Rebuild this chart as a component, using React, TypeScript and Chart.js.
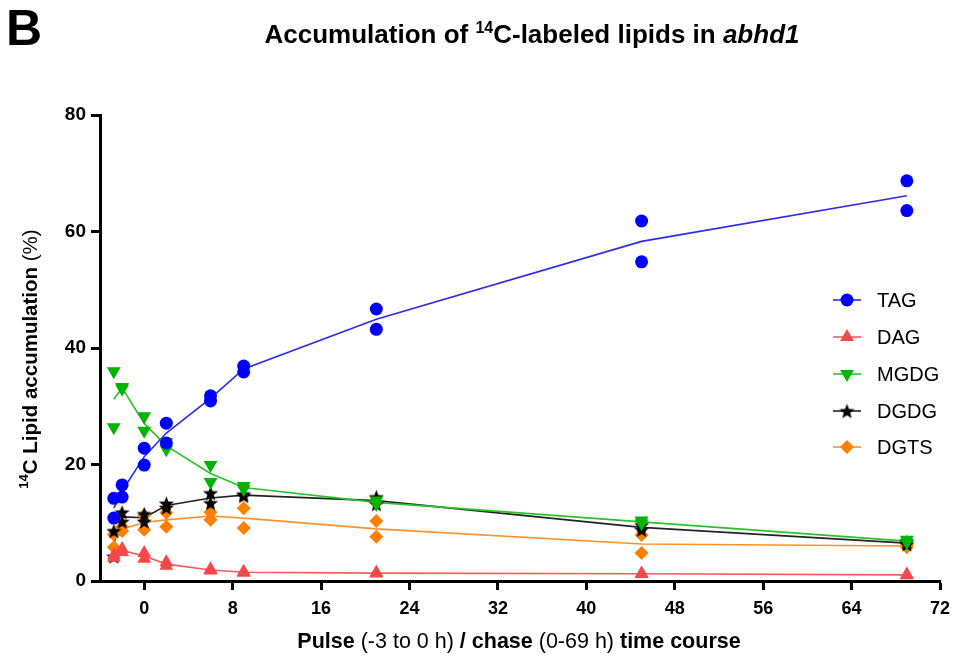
import React, { useEffect, useRef } from 'react';
import { Chart, registerables } from 'chart.js';
import { drawPoint } from 'chart.js/helpers';

Chart.register(...registerables);

const times = [-2.75, -2, 0, 2, 6, 9, 21, 45, 69];
const tagRep1 = [14.2, 16.5, 22.8, 27.1, 31.8, 36.9, 46.7, 61.8, 68.7];
const tagRep2 = [10.8, 14.4, 19.9, 23.7, 30.9, 35.9, 43.2, 54.8, 63.6];
const dagRep1 = [4.4, 5.5, 4.8, 3.2, 2.0, 1.6, 1.4, 1.3, 1.1];
const dagRep2 = [4.0, 5.0, 3.8, 2.6, 1.8, 1.4, 1.3, 1.2, 1.0];
const mgdgRep1 = [36.0, 33.3, 28.3, 23.8, 19.9, 16.3, 13.8, 10.4, 7.1];
const mgdgRep2 = [26.4, 33.0, 25.8, 22.6, 17.0, 15.8, 13.2, 9.9, 6.6];
const dgdgRep1 = [8.6, 11.8, 11.5, 13.3, 15.1, 14.9, 14.4, 9.6, 6.7];
const dgdgRep2 = [4.2, 10.2, 10.2, 12.6, 13.4, 14.6, 13.2, 8.8, 6.3];
const dgtsRep1 = [8.0, 9.3, 11.3, 11.7, 11.8, 12.5, 10.3, 7.9, 6.2];
const dgtsRep2 = [5.8, 8.6, 8.8, 9.3, 10.5, 9.1, 7.6, 4.8, 5.8];

const xTicks = [0, 8, 16, 24, 32, 40, 48, 56, 64, 72];
const yTicks = [0, 20, 40, 60, 80];

const seriesNames = ['TAG', 'DAG', 'MGDG', 'DGDG', 'DGTS'];
const seriesColors = ['#0000ff', '#f8474b', '#00b400', '#000000', '#ff8000'];
const lineColors = ['#2b2bf0', '#f85a5e', '#2cc02c', '#222222', '#ff922e'];

const FONT = '"Liberation Sans", Arial, Helvetica, sans-serif';

function makeStar(size: number, color: string) {
  const c = document.createElement('canvas');
  c.width = size;
  c.height = size;
  const g = c.getContext('2d')!;
  const cx = size / 2;
  const cy = size / 2 + 0.8;
  const ro = size / 2 - 0.5;
  const ri = ro * 0.42;
  g.beginPath();
  for (let i = 0; i < 10; i++) {
    const r = i % 2 === 0 ? ro : ri;
    const a = -Math.PI / 2 + (i * Math.PI) / 5;
    const px = cx + r * Math.cos(a);
    const py = cy + r * Math.sin(a);
    if (i === 0) g.moveTo(px, py);
    else g.lineTo(px, py);
  }
  g.closePath();
  g.fillStyle = color;
  g.fill();
  return c;
}

type Run = { text: string; font: string; dy?: number };

function drawRuns(ctx: CanvasRenderingContext2D, runs: Run[], cx: number, baseline: number) {
  let total = 0;
  const widths: number[] = [];
  for (const r of runs) {
    ctx.font = r.font;
    const w = ctx.measureText(r.text).width;
    widths.push(w);
    total += w;
  }
  let x = cx - total / 2;
  ctx.textAlign = 'left';
  ctx.textBaseline = 'alphabetic';
  runs.forEach((r, i) => {
    ctx.font = r.font;
    ctx.fillText(r.text, x, baseline + (r.dy || 0));
    x += widths[i];
  });
}

export default function App() {
  const ref = useRef<HTMLCanvasElement>(null);

  useEffect(() => {
    document.body.style.margin = '0';
    const canvas = ref.current!;
    const star = makeStar(17, '#000000');

    const reps = [
      [tagRep1, tagRep2],
      [dagRep1, dagRep2],
      [mgdgRep1, mgdgRep2],
      [dgdgRep1, dgdgRep2],
      [dgtsRep1, dgtsRep2],
    ];
    const styles: any[] = [
      { pointStyle: 'circle', radius: 6.5, rotation: 0 },
      { pointStyle: 'triangle', radius: 8, rotation: 0 },
      { pointStyle: 'triangle', radius: 8, rotation: 180 },
      { pointStyle: star, radius: 8, rotation: 0 },
      { pointStyle: 'rectRot', radius: 7, rotation: 0 },
    ];

    const datasets: any[] = [];
    reps.forEach((pair, si) => {
      const means = times.map((t, i) => ({ x: t, y: (pair[0][i] + pair[1][i]) / 2 }));
      datasets.push({
        label: seriesNames[si] + ' fit',
        data: means,
        borderColor: lineColors[si],
        borderWidth: 1.6,
        pointRadius: 0,
        showLine: true,
        fill: false,
        tension: 0,
        order: 10,
      });
    });
    reps.forEach((pair, si) => {
      const pts: any[] = [];
      times.forEach((t, i) => {
        pts.push({ x: t, y: pair[0][i] });
        pts.push({ x: t, y: pair[1][i] });
      });
      datasets.push({
        label: seriesNames[si],
        data: pts,
        showLine: false,
        backgroundColor: seriesColors[si],
        borderColor: seriesColors[si],
        borderWidth: 0,
        pointStyle: styles[si].pointStyle,
        pointRadius: styles[si].radius,
        pointRotation: styles[si].rotation,
        order: 1,
      });
    });

    const decor = {
      id: 'decor',
      afterDraw(chart: any) {
        const ctx: CanvasRenderingContext2D = chart.ctx;
        ctx.save();
        ctx.fillStyle = '#000';
        // Panel letter
        ctx.font = `bold 50px ${FONT}`;
        ctx.textAlign = 'left';
        ctx.textBaseline = 'alphabetic';
        ctx.fillText('B', 6, 45);
        // Title
        drawRuns(
          ctx,
          [
            { text: 'Accumulation of ', font: `bold 26px ${FONT}` },
            { text: '14', font: `bold 16px ${FONT}`, dy: -10 },
            { text: 'C-labeled lipids in ', font: `bold 26px ${FONT}` },
            { text: 'abhd1', font: `italic bold 26px ${FONT}` },
          ],
          532,
          43
        );
        // X title
        drawRuns(
          ctx,
          [
            { text: 'Pulse ', font: `bold 21.5px ${FONT}` },
            { text: '(-3 to 0 h) ', font: `21.5px ${FONT}` },
            { text: '/ chase ', font: `bold 21.5px ${FONT}` },
            { text: '(0-69 h) ', font: `21.5px ${FONT}` },
            { text: 'time course', font: `bold 21.5px ${FONT}` },
          ],
          519,
          648
        );
        // Y title
        ctx.save();
        ctx.translate(37, 359);
        ctx.rotate(-Math.PI / 2);
        drawRuns(
          ctx,
          [
            { text: '14', font: `bold 13px ${FONT}`, dy: -9 },
            { text: 'C Lipid accumulation ', font: `bold 20.5px ${FONT}` },
            { text: '(%)', font: `20.5px ${FONT}` },
          ],
          0,
          0
        );
        ctx.restore();
        // Legend
        const ys = [300, 337, 374, 411, 447];
        seriesNames.forEach((name, i) => {
          const y = ys[i];
          ctx.strokeStyle = lineColors[i];
          ctx.lineWidth = 1.6;
          ctx.beginPath();
          ctx.moveTo(833, y);
          ctx.lineTo(861, y);
          ctx.stroke();
          ctx.fillStyle = seriesColors[i];
          ctx.strokeStyle = seriesColors[i];
          drawPoint(
            ctx,
            {
              pointStyle: styles[i].pointStyle,
              radius: styles[i].radius,
              rotation: styles[i].rotation,
              borderWidth: 0,
            } as any,
            847,
            y
          );
          ctx.fillStyle = '#000';
          ctx.font = `20px ${FONT}`;
          ctx.textAlign = 'left';
          ctx.textBaseline = 'middle';
          ctx.fillText(name, 877, y + 1);
        });
        ctx.restore();
      },
    };

    const chart = new Chart(canvas, {
      type: 'line',
      data: { datasets },
      options: {
        animation: false,
        responsive: false,
        maintainAspectRatio: false,
        layout: { padding: { left: 0, right: 40, top: 115, bottom: 0 } },
        plugins: {
          legend: { display: false },
          title: { display: false },
          tooltip: { enabled: false },
        },
        scales: {
          x: {
            type: 'linear',
            min: -4,
            max: 72,
            afterBuildTicks: (s: any) => {
              s.ticks = xTicks.map((v) => ({ value: v }));
            },
            afterFit: (s: any) => {
              s.height = 82;
            },
            ticks: {
              color: '#000',
              font: { family: FONT, size: 18, weight: 'bold' },
              padding: 8,
              maxRotation: 0,
            },
            grid: {
              display: true,
              drawOnChartArea: false,
              drawTicks: true,
              tickLength: 9,
              tickWidth: 3,
              tickColor: '#000',
              color: '#000',
            },
            border: { display: true, width: 3, color: '#000' },
          },
          y: {
            type: 'linear',
            min: 0,
            max: 80,
            afterBuildTicks: (s: any) => {
              s.ticks = yTicks.map((v) => ({ value: v }));
            },
            afterFit: (s: any) => {
              s.width = 100;
            },
            ticks: {
              color: '#000',
              font: { family: FONT, size: 19, weight: 'bold' },
              padding: 5,
            },
            grid: {
              display: true,
              drawOnChartArea: false,
              drawTicks: true,
              tickLength: 9,
              tickWidth: 3,
              tickColor: '#000',
              color: '#000',
            },
            border: { display: true, width: 3, color: '#000' },
          },
        },
      } as any,
      plugins: [decor],
    });

    return () => {
      chart.destroy();
    };
  }, []);

  return (
    <div style={{ width: 980, height: 663, background: '#fff' }}>
      <canvas ref={ref} width={980} height={663} style={{ display: 'block' }} />
    </div>
  );
}
